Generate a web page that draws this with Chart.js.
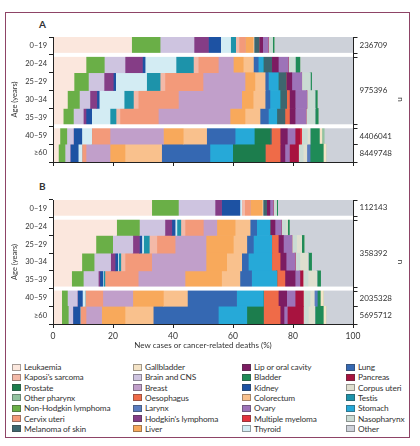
<!DOCTYPE html>
<html>
<head>
<meta charset="utf-8">
<script src="https://cdn.jsdelivr.net/npm/chart.js@4.4.1/dist/chart.umd.min.js"></script>
<style>
  body { margin: 0; width: 420px; height: 446px; background: #fff; position: relative; overflow: hidden; font-family: Lato, sans-serif; color: #333; }
  #frame { position: absolute; left: 5px; top: 12px; width: 405px; height: 426px; box-sizing: border-box; border: 1px solid #8e4466; }
  .panel-label { position: absolute; left: 39px; font-size: 10px; font-weight: bold; line-height: 10px; color: #333; }
  .wrap { position: absolute; left: 0; width: 420px; }
  .item { position: absolute; font-size: 8.3px; letter-spacing: -0.15px; line-height: 10px; white-space: nowrap; color: #333; }
  .item span { display: inline-block; width: 9px; height: 7px; margin-right: 3px; vertical-align: -0.5px; border: 1px solid rgba(60,60,60,0.45); box-sizing: border-box; }
</style>
</head>
<body>
<div id="frame"></div>
<div class="panel-label" style="top:19px">A</div>
<div class="wrap" style="top:28px;height:145px"><canvas id="chartA" width="420" height="145"></canvas></div>
<div class="panel-label" style="top:181px">B</div>
<div class="wrap" style="top:190px;height:170px"><canvas id="chartB" width="420" height="170"></canvas></div>
<div id="legend"></div>
<script>
// Age groups (rows) and the n for each bracket on the right
const ageGroups = ['0–19', '20–24', '25–29', '30–34', '35–39', '40–59', '≥60'];
const totalsA = ['236709', '975396', '4406041', '8449748'];
const totalsB = ['112143', '358392', '2035328', '5695712'];
const rowGroups = [[0, 0], [1, 4], [5, 5], [6, 6]];
const gapsAfter = [0, 4];
const xTicks = [0, 20, 40, 60, 80, 100];

// % share per row: first 7 values = panel A (new cases), next 7 = panel B (deaths)
const leukaemia    = [26.2, 11, 7, 4.8, 3.4, 2.3, 1.8,   32.9, 21.2, 14.3, 9.6, 6.2, 2.9, 2.9];
const nhl          = [9.5, 6.1, 4.8, 4.0, 3.4, 2.3, 2.2,  8.9, 7.6, 5.6, 4.1, 3.9, 1.9, 2.2];
const brain        = [11.3, 6.9, 5.2, 3.5, 3.3, 2.2, 1.7, 12.2, 8.5, 6.7, 5.5, 5.0, 3.3, 1.5];
const hodgkin      = [4.8, 5.8, 3.1, 2.3, 0.9, 0, 0,      2.2, 2.3, 2.2, 1.5, 0.5, 0, 0];
const kidney       = [4.1, 0.9, 0.8, 0.8, 1.9, 2.8, 2.7,  6.1, 1.1, 0.8, 0.9, 1.0, 1.7, 2.4];
const thyroid      = [3.3, 10.3, 10.3, 8.3, 6.1, 3.3, 1.2, 0.6, 0.6, 0.6, 0.3, 0.2, 0.9, 0];
const testis       = [1.7, 5.8, 4.5, 3.1, 2.0, 0, 0,      0, 1.3, 1.9, 0.7, 0.5, 0, 0];
const kaposi       = [1.1, 1.6, 1.6, 1.6, 1.3, 0, 0,      1.0, 1.4, 2.5, 1.4, 0, 0, 0];
const cervix       = [2.0, 6.7, 12.7, 13.4, 12.8, 6.1, 1.4, 1.8, 6.1, 6.1, 8.9, 11.1, 5.9, 2.0];
const breast       = [0, 5.0, 14.0, 21.1, 23.9, 17.8, 8.0, 0, 4.5, 10.3, 18.1, 15.6, 10.0, 5.2];
const liver        = [2.6, 3.3, 3.3, 3.8, 5.0, 6.6, 5.0,  3.9, 6.1, 9.1, 6.9, 12.2, 10.2, 7.8];
const colorectum   = [0.4, 3.4, 3.4, 4.0, 5.0, 7.8, 12.2, 0.4, 5.0, 4.5, 5.0, 6.1, 8.0, 9.4];
const lung         = [0, 1.6, 1.1, 1.6, 2.8, 9.5, 16.1,   0, 2.2, 2.2, 2.2, 3.9, 16.4, 21.7];
const stomach      = [0, 1.7, 3.3, 3.4, 2.8, 6.4, 7.6,    0, 4.4, 6.1, 7.8, 8.4, 8.9, 9.5];
const prostate     = [0, 0, 0, 0, 0, 5.2, 10.8,           0, 0, 0, 0, 0, 0, 5.5];
const melanoma     = [1.7, 2.8, 2.6, 2.2, 2.7, 0.5, 0,    1.2, 0, 0, 0, 0, 0, 0];
const oesophagus   = [0, 0, 0, 0.9, 1.5, 2.9, 5.0,        0, 0, 2.2, 2.8, 2.7, 5.0, 5.6];
const lip          = [1.2, 2.2, 1.9, 1.9, 1.9, 2.4, 1.6,  1.1, 1.7, 1.7, 2.0, 3.4, 2.8, 1.3];
const ovary        = [1.8, 3.3, 3.3, 3.9, 3.6, 2.6, 1.5,  1.1, 2.1, 2.8, 3.0, 1.6, 2.8, 1.1];
const pancreas     = [0, 0, 0, 0, 0, 1.6, 3.0,            0, 0, 0, 0, 1.0, 2.7, 5.3];
const myeloma      = [0, 0, 0, 0, 0, 0.6, 0,              0, 0, 0, 0, 0, 0, 0];
const nasopharynx  = [1.5, 2.3, 2.8, 2.7, 3.0, 1.9, 1.6,  1.1, 1.6, 1.6, 1.6, 1.7, 2.3, 1.7];
const corpusUteri  = [0, 0, 0, 0, 0, 0.9, 1.2,            0, 0.5, 1.7, 2.8, 3.0, 1.4, 2.2];
const larynx       = [0, 0, 0, 0, 0, 0, 1.1,              0, 0, 0, 0, 0, 1.0, 0];
const bladder      = [0.5, 1.6, 0.5, 0.8, 1.1, 3.1, 4.4,  0.4, 0.6, 0.8, 1.1, 1.2, 1.0, 2.8];
const gallbladder  = [0, 0, 0, 0, 0, 0.8, 0.9,            0, 0, 0, 0, 0, 1.0, 0.9];
const otherPharynx = [0, 0, 0, 0, 0, 0.8, 0,              0, 0, 0, 0, 0, 0, 0];
const other        = [26.3, 17.7, 13.8, 11.9, 11.6, 9.6, 9.0, 25.1, 21.2, 16.3, 13.8, 10.8, 9.9, 9.0];

// stack order, left to right
const series = [
  ['Leukaemia', leukaemia], ['Non-Hodgkin lymphoma', nhl], ['Brain and CNS', brain],
  ["Hodgkin's lymphoma", hodgkin], ['Kidney', kidney], ['Thyroid', thyroid], ['Testis', testis],
  ["Kaposi's sarcoma", kaposi], ['Cervix uteri', cervix], ['Breast', breast], ['Liver', liver],
  ['Colorectum', colorectum], ['Lung', lung], ['Stomach', stomach], ['Prostate', prostate],
  ['Melanoma of skin', melanoma], ['Oesophagus', oesophagus], ['Lip or oral cavity', lip],
  ['Ovary', ovary], ['Pancreas', pancreas], ['Multiple myeloma', myeloma], ['Nasopharynx', nasopharynx],
  ['Corpus uteri', corpusUteri], ['Larynx', larynx], ['Bladder', bladder], ['Gallbladder', gallbladder],
  ['Other pharynx', otherPharynx], ['Other', other]
];

const palette = {
  'Leukaemia': '#fbe7dd', "Kaposi's sarcoma": '#f3b9a8', 'Prostate': '#1c7d4d', 'Other pharynx': '#93c3a0',
  'Non-Hodgkin lymphoma': '#6aaf47', 'Cervix uteri': '#f39a7a', 'Melanoma of skin': '#3e666e',
  'Gallbladder': '#f4e3c6', 'Brain and CNS': '#cec4e0', 'Breast': '#c19fca', 'Oesophagus': '#ef6b48',
  'Larynx': '#5a7cbf', "Hodgkin's lymphoma": '#853d86', 'Liver': '#f8a95b',
  'Lip or oral cavity': '#7c1c62', 'Bladder': '#1f8b57', 'Kidney': '#1d52a3', 'Colorectum': '#f9c18d',
  'Ovary': '#9d73b8', 'Multiple myeloma': '#e3323d', 'Thyroid': '#d3ecf3',
  'Lung': '#3568b2', 'Pancreas': '#a8133f', 'Corpus uteri': '#dfdfcf', 'Testis': '#1d93aa',
  'Stomach': '#26a9d8', 'Nasopharynx': '#cadbd3', 'Other': '#cdd1d9'
};

// legend, read down each column
const legendOrder = [
  'Leukaemia', "Kaposi's sarcoma", 'Prostate', 'Other pharynx', 'Non-Hodgkin lymphoma', 'Cervix uteri', 'Melanoma of skin',
  'Gallbladder', 'Brain and CNS', 'Breast', 'Oesophagus', 'Larynx', "Hodgkin's lymphoma", 'Liver',
  'Lip or oral cavity', 'Bladder', 'Kidney', 'Colorectum', 'Ovary', 'Multiple myeloma', 'Thyroid',
  'Lung', 'Pancreas', 'Corpus uteri', 'Testis', 'Stomach', 'Nasopharynx', 'Other'
];

Chart.defaults.font.family = 'Lato, sans-serif';
Chart.defaults.color = '#333';

// white breaks between row groups + the bracket axis with n on the right
const groupsPlugin = {
  id: 'groups',
  afterDatasetsDraw(chart, args, opts) {
    const { ctx, chartArea: area, scales: { y } } = chart;
    const rowH = y.getPixelForValue(1) - y.getPixelForValue(0);
    const edge = i => y.getPixelForValue(i) - rowH / 2;
    ctx.save();
    ctx.fillStyle = '#fff';
    gapsAfter.forEach(i => ctx.fillRect(area.left + 1, edge(i + 1) - 2, area.width - 1, 4));

    ctx.strokeStyle = '#222';
    ctx.lineWidth = 1;
    ctx.beginPath();
    const xr = Math.round(area.right) + 0.5;
    ctx.moveTo(xr, area.top);
    ctx.lineTo(xr, area.bottom);
    ctx.font = '8px Lato, sans-serif';
    ctx.fillStyle = '#333';
    ctx.textBaseline = 'middle';
    rowGroups.forEach(([a, b], k) => {
      const top = edge(a) + (gapsAfter.includes(a - 1) ? 2 : 0);
      const bottom = edge(b + 1) - (gapsAfter.includes(b) ? 2 : 0);
      [top, bottom].forEach(v => {
        ctx.moveTo(xr, Math.round(v) + 0.5);
        ctx.lineTo(xr + 4, Math.round(v) + 0.5);
      });
      ctx.fillText(opts.totals[k], xr + 6, (top + bottom) / 2);
    });
    ctx.stroke();
    ctx.restore();
  }
};

function makeChart(id, panel, totals, showLabels) {
  const start = panel * 7;
  const datasets = series.map(([label, values]) => ({
    label,
    data: values.slice(start, start + 7),
    backgroundColor: palette[label],
    borderWidth: 0,
    barPercentage: 1,
    categoryPercentage: 1
  }));

  return new Chart(document.getElementById(id), {
    type: 'bar',
    data: { labels: ageGroups, datasets },
    options: {
      indexAxis: 'y',
      responsive: false,
      animation: false,
      layout: { padding: { top: showLabels ? 10 : 9, bottom: showLabels ? 8 : 5, left: 0, right: 0 } },
      plugins: {
        legend: { display: false },
        tooltip: { enabled: false },
        groups: { totals }
      },
      scales: {
        x: {
          stacked: true,
          min: 0,
          max: 100,
          afterBuildTicks: s => { s.ticks = xTicks.map(v => ({ value: v })); },
          ticks: { display: showLabels, font: { size: 8.5 }, padding: 3, color: '#333' },
          grid: { drawOnChartArea: false, tickLength: 4, color: '#222' },
          border: { color: '#222', z: 1 },
          title: {
            display: showLabels,
            text: 'New cases or cancer-related deaths (%)',
            font: { size: 8 },
            color: '#333',
            padding: { top: 0, bottom: 2 }
          },
          afterFit: s => { s.height = showLabels ? 28 : 6; }
        },
        y: {
          stacked: true,
          ticks: { font: { size: 7.5 }, padding: 2, color: '#333' },
          grid: { drawOnChartArea: false, tickLength: 4, color: '#222' },
          border: { color: '#222', z: 1 },
          title: {
            display: true,
            text: 'Age (years)',
            font: { size: 7.5 },
            color: '#333',
            padding: { top: 10, bottom: 0 }
          },
          afterFit: s => { s.width = 53; }
        },
        yRight: {
          type: 'category',
          position: 'right',
          ticks: { display: false },
          grid: { display: false },
          border: { display: false },
          title: { display: true, text: 'n', font: { size: 8 }, color: '#333', padding: { top: 15, bottom: 0 } },
          afterFit: s => { s.width = 67; }
        }
      }
    },
    plugins: [groupsPlugin]
  });
}

makeChart('chartA', 0, totalsA, false);
makeChart('chartB', 1, totalsB, true);

// legend: 4 columns x 7 rows
const legendEl = document.getElementById('legend');
const colLeft = [12, 133, 242, 346];
legendOrder.forEach((name, i) => {
  const item = document.createElement('div');
  item.className = 'item';
  item.style.left = colLeft[Math.floor(i / 7)] + 'px';
  item.style.top = (362 + (i % 7) * 10.3) + 'px';
  const sw = document.createElement('span');
  sw.style.background = palette[name];
  item.appendChild(sw);
  item.appendChild(document.createTextNode(name));
  legendEl.appendChild(item);
});
</script>
</body>
</html>
